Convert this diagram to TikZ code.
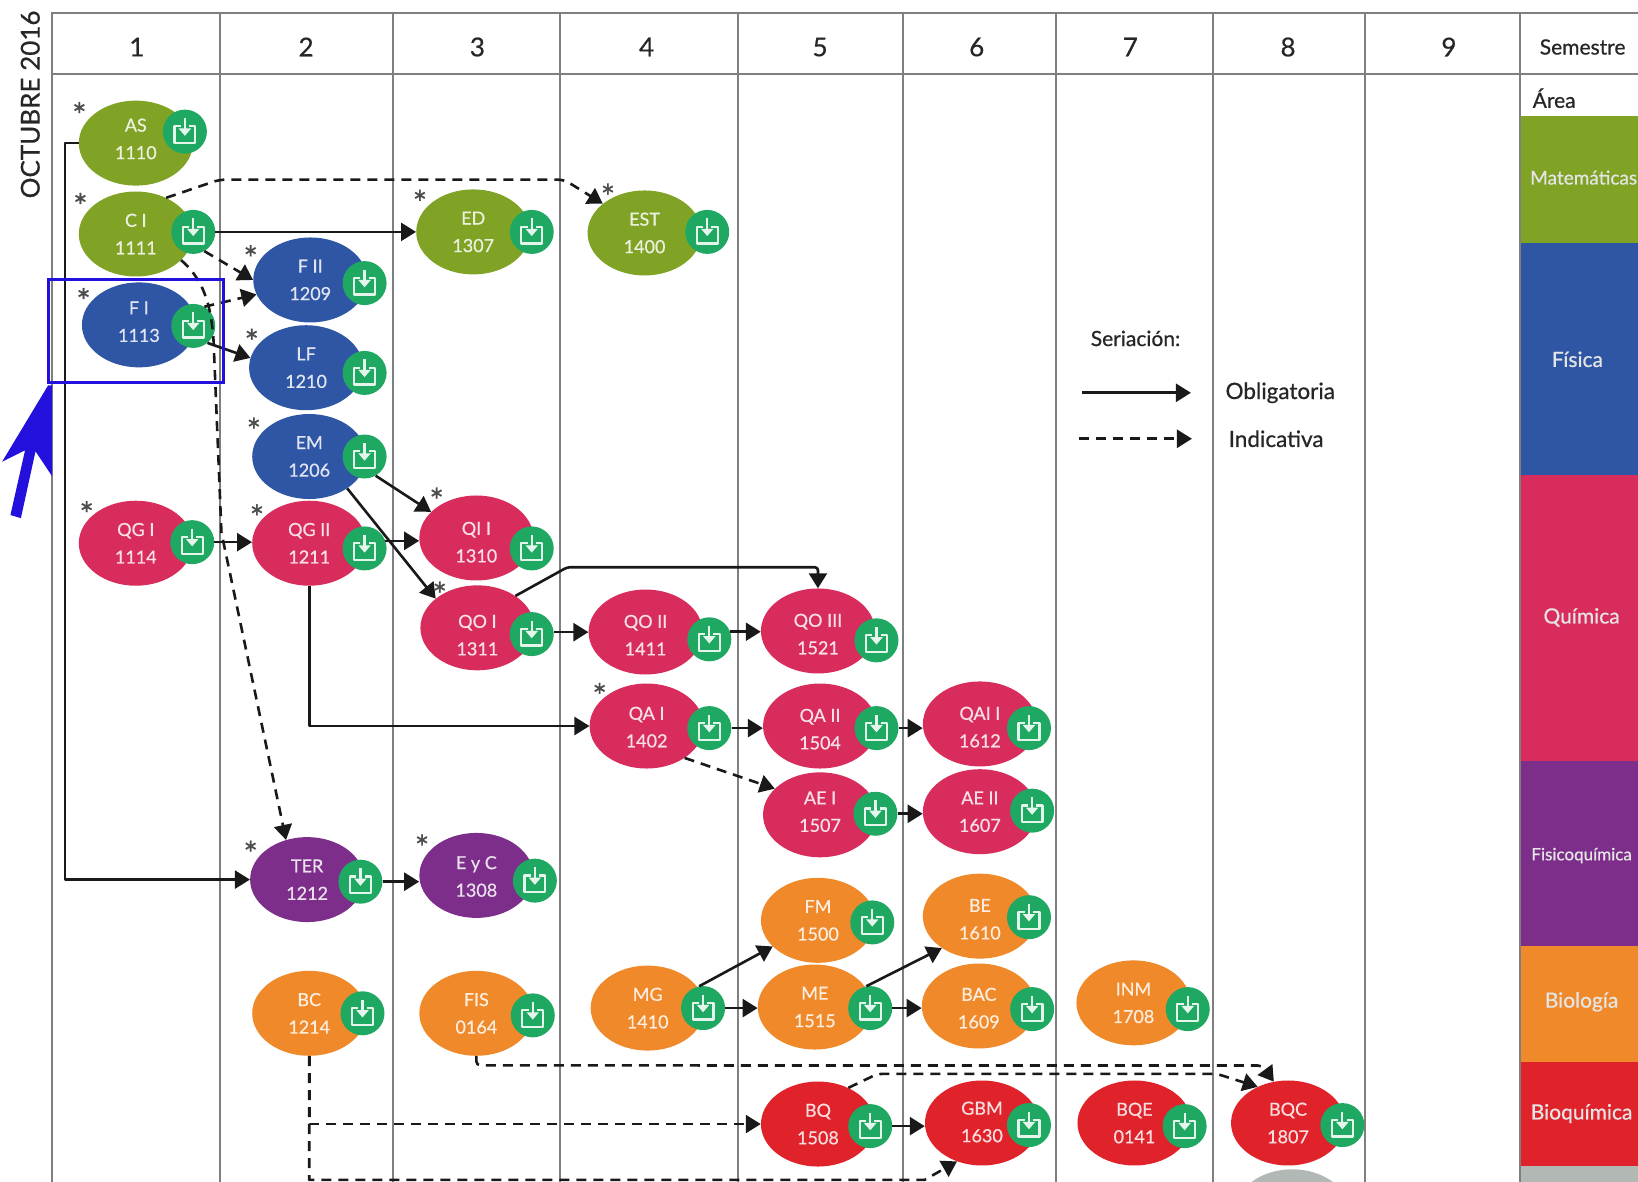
\documentclass[tikz,border=0pt]{standalone}
\usepackage{fontspec}
\setmainfont{Lato}[RawFeature={embolden=0.6}]
\usetikzlibrary{arrows.meta,shapes.geometric}
\definecolor{cgrn}{HTML}{80A326}
\definecolor{cblu}{HTML}{2F55A5}
\definecolor{ccri}{HTML}{D82C5C}
\definecolor{cpur}{HTML}{7C2E8A}
\definecolor{cora}{HTML}{F0892A}
\definecolor{cred}{HTML}{E0222B}
\definecolor{cgry}{HTML}{B2B8B4}
\definecolor{cbad}{HTML}{1EA862}
\definecolor{cgrid}{HTML}{7F7F7F}
\definecolor{cann}{HTML}{2410DC}
\tikzset{
  ell/.style={ellipse,minimum width=114pt,minimum height=85pt,inner sep=0pt,draw=none},
  ctext/.style={align=center,inner sep=0pt,font=\fontsize{18}{27.5}\selectfont},
  badgec/.style={circle,fill=cbad,minimum size=44pt,inner sep=0pt,draw=none},
  iconline/.style={draw=white!88!cbad,line width=2.2pt,line join=round},
  dlicon/.pic={
    \draw[iconline] (-4,-5) -- (-10,-5) -- (-10,11) -- (10,11) -- (10,-5) -- (4,-5);
    \draw[iconline] (0,-13) -- (0,-2);
    \fill[white!88!cbad] (-6,-3) -- (6,-3) -- (0,4) -- cycle;
  },
  gridl/.style={draw=cgrid,line width=2pt},
  astm/.style={font=\fontsize{34}{34}\selectfont,text=black!70,inner sep=0pt},
  hdr/.style={font=\fontsize{26}{26}\selectfont,text=black!85,inner sep=0pt},
  sidet/.style={font=\fontsize{21}{21}\selectfont,text=black!85,inner sep=0pt},
  blk/.style={font=\fontsize{21}{21}\selectfont,text=white!90!black,inner sep=0pt},
  blks/.style={font=\fontsize{17}{17}\selectfont,text=white!90!black,inner sep=0pt},
  sol/.style={draw=black!90,line width=2.6pt,-{Triangle[length=15pt,width=18pt]},line join=round},
  das/.style={sol,dash pattern=on 10pt off 7pt},
}
\newcommand\course[8][0]{%
  \node[ell,fill=#5] (#2) at (#3,#4) {};
  \node[ctext,text=#5!15!white] (#2t) at (#3,#4+#1) {#6};
  \node[badgec] (#2b) at (#7,#8) {};
  \pic at (#7,#8) {dlicon};
}
\newcommand\blockrect[3]{\fill[#1] (1456,#2) rectangle (1568,#3);}
\begin{document}
\begin{tikzpicture}[x=1.04464pt,y=-1.04464pt]
\path[use as bounding box,clip] (0,0) rectangle (1568,1130.55);
\fill[white] (0,0) rectangle (1568,1130.55);
% colour blocks
\blockrect{cgrn}{111}{233}
\blockrect{cblu}{233}{455}
\blockrect{ccri}{455}{728}
\blockrect{cpur}{728}{906}
\blockrect{cora}{906}{1017}
\blockrect{cred}{1017}{1116}
\blockrect{cgry}{1116}{1131}
% grid
\draw[gridl] (1568,12) -- (50,12) -- (50,1131);
\draw[gridl] (50,71) -- (1568,71);
\foreach \gx in {211,376,536,706,864,1011,1161,1307,1455}
  \draw[gridl] (\gx,12) -- (\gx,1131);
% headers
\node[hdr] (h1) at (131,45) {1};
\node[hdr] (h2) at (293,45) {2};
\node[hdr] (h3) at (457,45) {3};
\node[hdr] (h4) at (619,45) {4};
\node[hdr] (h5) at (785,45) {5};
\node[hdr] (h6) at (935,45) {6};
\node[hdr] (h7) at (1082,45) {7};
\node[hdr] (h8) at (1233,45) {8};
\node[hdr] (h9) at (1387,45) {9};
\node[sidet] (hs) at (1515,45) {Semestre};
\node[sidet,anchor=west] (ha) at (1467,94) {Área};
\node[hdr,rotate=90] (date) at (29,100) {OCTUBRE 2016};
% side labels
\node[blk,font=\fontsize{19}{19}\selectfont] (am) at (1516,170) {Matemáticas};
\node[blk] (af) at (1510,344) {Física};
\node[blk] (aq) at (1514,591) {Química};
\node[blks] (afq) at (1514,819) {Fisicoquímica};
\node[blk] (ab) at (1514,959) {Biología};
\node[blk] (abq) at (1514,1066) {Bioquímica};
% legend
\node[sidet] (lt) at (1087,324) {Seriación:};
\node[sidet,anchor=west,font=\fontsize{22.5}{23}\selectfont] (lo) at (1173,376) {Obligatoria};
\node[sidet,anchor=west,font=\fontsize{22.5}{23}\selectfont] (li) at (1176,420) {Indicativa};
\coordinate (l1a) at (1036,376);
\coordinate (l1b) at (1140,376);
\coordinate (l2a) at (1033,420);
\coordinate (l2b) at (1141,420);
\draw[sol] (l1a) -- (l1b);
\draw[das] (l2a) -- (l2b);
% courses
\course[-4]{as}{130}{137}{cgrn}{AS\\1110}{177}{126}
\course{c1}{130}{224}{cgrn}{C I\\1111}{185}{222}
\course[-3]{f1}{133}{311}{cblu}{F I\\1113}{185}{312}
\course{f2}{297}{268}{cblu}{F II\\1209}{349}{271}
\course{lf}{293}{352}{cblu}{LF\\1210}{349}{357}
\course{em}{296}{437}{cblu}{EM\\1206}{349}{437}
\course{qg1}{130}{520}{ccri}{QG I\\1114}{184}{519}
\course{qg2}{296}{520}{ccri}{QG II\\1211}{349}{525}
\course[4]{qi1}{456}{515}{ccri}{QI I\\1310}{509}{525}
\course[7]{qo1}{457}{601}{ccri}{QO I\\1311}{509}{607}
\course{ed}{453}{222}{cgrn}{ED\\1307}{509}{222}
\course{est}{617}{223}{cgrn}{EST\\1400}{677}{222}
\course[3]{qo2}{618}{605}{ccri}{QO II\\1411}{679}{612}
\course[1]{qa1}{619}{695}{ccri}{QA I\\1402}{679}{697}
\course[3]{qo3}{783}{604}{ccri}{QO III\\1521}{839}{613}
\course[3]{qa2}{785}{695}{ccri}{QA II\\1504}{839}{697}
\course[-3]{ae1}{785}{780}{ccri}{AE I\\1507}{838}{779}
\course[3]{qai}{938}{693}{ccri}{QAI I\\1612}{985}{697}
\course{ae2}{938}{777}{ccri}{AE II\\1607}{988}{776}
\course{ter}{294}{842}{cpur}{TER\\1212}{345}{844}
\course[1]{eyc}{456}{838}{cpur}{E y C\\1308}{512}{843}
\course{fm}{783}{881}{cora}{FM\\1500}{835}{883}
\course{me}{780}{964}{cora}{ME\\1515}{833}{965}
\course[3]{be}{938}{877}{cora}{BE\\1610}{985}{878}
\course[2]{bac}{937}{963}{cora}{BAC\\1609}{988}{966}
\course{mg}{620}{965}{cora}{MG\\1410}{673}{965}
\course{bc}{296}{970}{cora}{BC\\1214}{347}{970}
\course{fis}{456}{970}{cora}{FIS\\0164}{510}{972}
\course{inm}{1085}{960}{cora}{INM\\1708}{1137}{966}
\course{bq}{783}{1076}{cred}{BQ\\1508}{833}{1078}
\course[-1]{gbm}{940}{1075}{cred}{GBM\\1630}{985}{1077}
\course{bqe}{1086}{1075}{cred}{BQE\\0141}{1134}{1078}
\course{bqc}{1233}{1075}{cred}{BQC\\1807}{1285}{1077}
\node[ell,fill=cgry] (gray) at (1237,1160) {};
% asterisks
\foreach \sn/\sx/\sy in {a/76/110,b/77/197,c/80/288,d/240/247,e/241/327,f/243/412,g/83/492,h/246/495,i/418/479,j/421/569,k/402/194,l/582/188,m/574/666,n/240/817,o/404/811}
  \node[astm] (st\sn) at (\sx,\sy) {*};
% solid connectors
\draw[sol] (as.west) -- ++(-13,0) |- (ter.west);
\draw[sol] (c1b.east) -- (c1b.east -| ed.west);
\draw[sol] (f1b.-50) -- (lf.170);
\draw[sol] (qg1b.east) -- (qg1b.east -| qg2.west);
\draw[sol] (qg2b.20) -- (qg2b.20 -| qi1.west);
\draw[sol] (emb.-60) -- (qi1.150);
\draw[sol] (em.-40) -- (qo1.145);
\draw[sol] (qo1b.5) -- (qo1b.5 -| qo2.west);
\draw[sol,rounded corners=3pt] (qo1.40) -- (543,543) -| (qo3.north);
\draw[sol] (qo2b.20) -- (qo2b.20 -| qo3.west);
\draw[sol] (qg2.south) |- (qa1.west);
\draw[sol] (qa1b.east) -- (qa1b.east -| qa2.west);
\draw[sol] (qa2b.east) -- (qa2b.east -| qai.west);
\draw[sol] (ae1b.east) -- (ae1b.east -| ae2.west);
\draw[sol] (terb.east) -- (terb.east -| eyc.west);
\draw[sol] (mgb.100) -- (fm.-150);
\draw[sol] (mgb.east) -- (mgb.east -| me.west);
\draw[sol] (meb.100) -- (be.-140);
\draw[sol] (meb.east) -- (meb.east -| bac.west);
\draw[sol] (bqb.east) -- (bqb.east -| gbm.west);
% dashed connectors
\draw[das] (c1b.-60) -- (f2.west);
\draw[das] (f1b.60) -- (f2.-165);
\draw[das] (c1.-30) .. controls (198,270) and (204,300) .. (205,340) -- (212,510) -- (ter.118);
\draw[das,rounded corners=6pt] (c1.50) -- (210,172) -- (540,172) -- (est.145);
\draw[das] (qa1.-40) -- (ae1.150);
\draw[das,rounded corners=4pt] (fis.south) -- ++(0,9) -- (1208,1020) -- (bqc.109);
\draw[das,rounded corners=5pt] (bq.50) -- (840,1028) -- (1165,1028) -- (bqc.130);
\draw[das] (bc.south) |- (bq.west);
\draw[das] (bc.south) -- (296,1129.5) -- (885,1129.5) -- (gbm.-123);
% annotation
\draw[draw=cann,line width=3pt] (46,268) rectangle (214,366);
\fill[cann] (46,369) -- (2,442) -- (24,431) -- (10,493) -- (20,496) -- (34,432) -- (50,456) -- (50,369) -- cycle;
\end{tikzpicture}
\end{document}
